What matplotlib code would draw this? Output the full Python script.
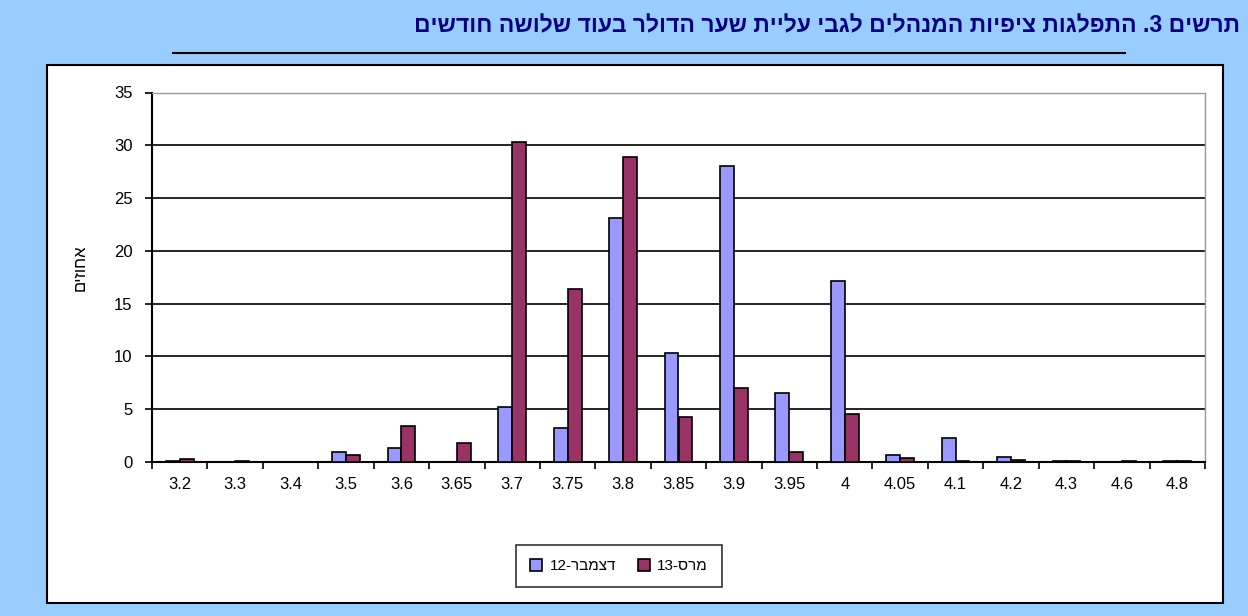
import matplotlib
matplotlib.use("Agg")
import matplotlib.pyplot as plt
from matplotlib.patches import Rectangle
from matplotlib.lines import Line2D
import numpy as np
import re

# ---- data ----
categories = ['3.2', '3.3', '3.4', '3.5', '3.6', '3.65', '3.7', '3.75', '3.8', '3.85',
              '3.9', '3.95', '4', '4.05', '4.1', '4.2', '4.3', '4.6', '4.8']
dec12 = [0.1, 0, 0, 0.9, 1.3, 0, 5.2, 3.2, 23.1, 10.3, 28.0, 6.5, 17.1, 0.7, 2.3, 0.5, 0.1, 0, 0.1]
mar13 = [0.3, 0.1, 0, 0.7, 3.4, 1.8, 30.3, 16.4, 28.9, 4.3, 7.0, 0.9, 4.5, 0.4, 0.1, 0.2, 0.1, 0.1, 0.1]
series_labels = ['דצמבר-12', 'מרס-13']
title_text = 'תרשים 3. התפלגות ציפיות המנהלים לגבי עליית שער הדולר בעוד שלושה חודשים'
ylabel_text = 'אחוזים'
yticks = [0, 5, 10, 15, 20, 25, 30, 35]


def vis(s):
    """Simple visual-order conversion for RTL Hebrew text (keeps digit runs LTR)."""
    r = s[::-1]
    return re.sub(r'[0-9]+', lambda m: m.group(0)[::-1], r)


FONT = ['Liberation Sans', 'DejaVu Sans']
plt.rcParams['font.family'] = FONT

W, H = 1248, 616
fig = plt.figure(figsize=(W / 100, H / 100), dpi=100)
fig.patch.set_facecolor('#99CCFF')

# white panel
panel = Rectangle((47 / W, 1 - 603 / H), (1223 - 47) / W, (603 - 65) / H,
                  transform=fig.transFigure, facecolor='white',
                  edgecolor='black', linewidth=1.5, zorder=-10)
fig.add_artist(panel)
# title
fig.text(1240 / W, 1 - 26 / H, vis(title_text), ha='right', va='center',
         fontsize=16.5, fontweight='bold', color='#000080', family=FONT)
# line under title
fig.add_artist(Line2D([173 / W, 1125 / W], [1 - 53 / H, 1 - 53 / H],
                      transform=fig.transFigure, color='black', linewidth=1.5))

left, right, top, bottom = 152, 1205, 92.5, 462
ax = fig.add_axes([left / W, 1 - bottom / H, (right - left) / W, (bottom - top) / H])
ax.set_facecolor('white')
ax.set_zorder(1)

x = np.arange(len(categories))
w = 0.25
ax.bar(x - w / 2, dec12, w, color='#9999FF', edgecolor='black', linewidth=1.2,
       label=vis(series_labels[0]), zorder=3)
ax.bar(x + w / 2, mar13, w, color='#993366', edgecolor='black', linewidth=1.2,
       label=vis(series_labels[1]), zorder=3)

ax.set_xlim(-0.5, len(categories) - 0.5)
ax.set_ylim(0, 35)
ax.set_yticks(yticks)
ax.set_yticklabels([str(v) for v in yticks], fontsize=12)
ax.yaxis.grid(True, color='black', linewidth=1.2, zorder=1)
ax.set_axisbelow(True)

ax.set_xticks(x)
ax.set_xticklabels(categories, fontsize=12)
ax.set_xticks(np.arange(len(categories) + 1) - 0.5, minor=True)
ax.tick_params(axis='x', which='major', length=0, pad=11)
ax.tick_params(axis='x', which='minor', length=5, width=1.2, direction='out')
ax.tick_params(axis='y', length=5, width=1.2, direction='out', pad=9)

for s in ['top', 'right']:
    ax.spines[s].set_color('#999999')
    ax.spines[s].set_linewidth(1.0)
ax.spines['left'].set_linewidth(1.5)
ax.spines['bottom'].set_linewidth(1.5)

fig.text(80 / W, 1 - 268 / H, vis(ylabel_text), rotation=90, ha='center', va='center',
         fontsize=12, family=FONT, zorder=5)

leg = ax.legend(loc='center', bbox_to_anchor=((619 - left) / (right - left), (bottom - 566) / (bottom - top)),
                ncol=2, frameon=True, fancybox=False, edgecolor='black', fontsize=11,
                handlelength=0.8, handleheight=0.8, handletextpad=0.5, columnspacing=1.4,
                borderpad=0.9)
leg.get_frame().set_linewidth(1.2)

fig.savefig('out.png', dpi=100, facecolor=fig.get_facecolor())
